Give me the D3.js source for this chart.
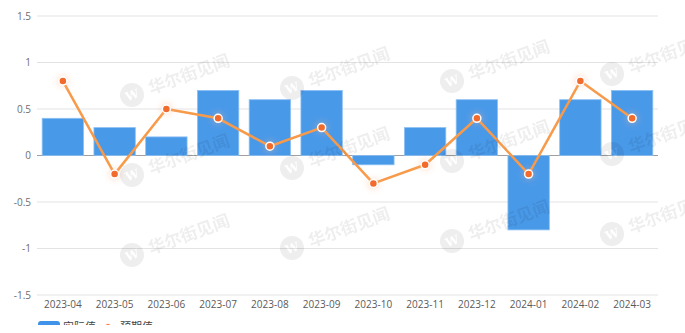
<!DOCTYPE html>
<html>
<head>
<meta charset="utf-8">
<script src="https://cdn.jsdelivr.net/npm/d3@7"></script>
<style>
  body { margin: 0; background: #fff; }
  svg { display: block; font-family: "Noto Sans CJK SC", "Open Sans", sans-serif; }
</style>
</head>
<body>
<div id="chart"></div>
<script>
// Data
let months = ["2023-04", "2023-05", "2023-06", "2023-07", "2023-08", "2023-09",
  "2023-10", "2023-11", "2023-12", "2024-01", "2024-02", "2024-03"];
let actual = [0.4, 0.3, 0.2, 0.7, 0.6, 0.7, -0.1, 0.3, 0.6, -0.8, 0.6, 0.7];
let expected = [0.8, -0.2, 0.5, 0.4, 0.1, 0.3, -0.3, -0.1, 0.4, -0.2, 0.8, 0.4];
let yTicks = [-1.5, -1, -0.5, 0, 0.5, 1, 1.5];
let legendNames = ["实际值", "预期值"];

let width = 685, height = 333;
let margin = { top: 16, right: 27, bottom: 38, left: 37 };

let svg = d3.select("#chart").append("svg")
  .attr("width", width)
  .attr("height", height);

let xScale = d3.scaleBand()
  .domain(months)
  .range([margin.left, width - margin.right])
  .paddingInner(0.2)
  .paddingOuter(0.1);

let yScale = d3.scaleLinear()
  .domain([-1.5, 1.5])
  .range([height - margin.bottom, margin.top]);

//Gridlines
svg.append("g")
  .selectAll("line")
  .data(yTicks)
  .enter()
  .append("line")
  .attr("x1", margin.left)
  .attr("x2", width - margin.right)
  .attr("y1", d => yScale(d))
  .attr("y2", d => yScale(d))
  .attr("stroke", d => d === 0 ? "#a0a0a0" : "#e3e3e3")
  .attr("stroke-width", d => d === 0 ? 1.2 : 1);

//Y axis labels
let yAxis = svg.append("g")
  .attr("transform", "translate(" + (margin.left - 6) + ",0)")
  .call(d3.axisLeft(yScale).tickValues(yTicks).tickSize(0).tickPadding(0)
    .tickFormat(d => String(d)));
yAxis.select(".domain").remove();
yAxis.selectAll("text")
  .attr("fill", "#6e6e6e")
  .style("font-size", "10px")
  .style("font-family", "'Open Sans', sans-serif");

//X axis labels
let xAxis = svg.append("g")
  .attr("transform", "translate(0," + (height - margin.bottom) + ")")
  .call(d3.axisBottom(xScale).tickSize(0).tickPadding(6));
xAxis.select(".domain").remove();
xAxis.selectAll("text")
  .attr("fill", "#5a5a5a")
  .style("font-size", "10px")
  .style("font-family", "'Open Sans', sans-serif");

//Bars
svg.append("g")
  .selectAll("rect")
  .data(actual)
  .enter()
  .append("rect")
  .attr("x", (d, i) => xScale(months[i]))
  .attr("width", xScale.bandwidth())
  .attr("y", d => yScale(Math.max(0, d)))
  .attr("height", d => Math.abs(yScale(d) - yScale(0)))
  .attr("fill", "#3f93e8")
  .attr("fill-opacity", 0.95)
  .attr("stroke", "#8cc0f3")
  .attr("stroke-width", 0.8);

//Expected line
let cx = i => xScale(months[i]) + xScale.bandwidth() / 2;
let line = d3.line()
  .x((d, i) => cx(i))
  .y(d => yScale(d));

let defs = svg.append("defs");
let glow = defs.append("filter").attr("id", "glow")
  .attr("x", "-100%").attr("y", "-100%").attr("width", "300%").attr("height", "300%");
glow.append("feGaussianBlur").attr("stdDeviation", 3);
defs.append("clipPath").attr("id", "cut")
  .append("rect").attr("x", 0).attr("y", 0).attr("width", width).attr("height", 325);

svg.append("path")
  .datum(expected)
  .attr("d", line)
  .attr("fill", "none")
  .attr("stroke", "#f79a4a")
  .attr("stroke-width", 2.5)
  .attr("stroke-linejoin", "round");

let pts = svg.append("g")
  .selectAll("g")
  .data(expected)
  .enter()
  .append("g")
  .attr("transform", (d, i) => "translate(" + cx(i) + "," + yScale(d) + ")");
pts.append("circle")
  .attr("r", 6)
  .attr("fill", "#ffb48a")
  .attr("opacity", 0.35)
  .attr("filter", "url(#glow)");
pts.append("circle")
  .attr("r", 4)
  .attr("fill", "#f26a2c")
  .attr("stroke", "#fff")
  .attr("stroke-width", 1.5);

//Watermark
let wm = svg.append("g").attr("pointer-events", "none").attr("opacity", 0.07);
for (let c = 1; c < 5; c++) {
  for (let r = 1; r < 4; r++) {
    let gx = -28 + c * 160, gy = 22 + r * 80 - c * 7;
    let g = wm.append("g")
      .attr("transform", "translate(" + gx + "," + gy + ") rotate(-20)");
    g.append("circle").attr("r", 12).attr("fill", "#000");
    g.append("text")
      .attr("text-anchor", "middle")
      .attr("dy", "0.36em")
      .attr("fill", "#fff")
      .style("font-size", "12px")
      .style("font-weight", "bold")
      .style("font-family", "'DejaVu Serif', serif")
      .text("W");
    g.append("text")
      .attr("x", 18)
      .attr("dy", "0.36em")
      .attr("fill", "#000")
      .style("font-size", "17px")
      .style("font-weight", "bold")
      .text("华尔街见闻");
  }
}

//Legend (cut off at the bottom edge of the chart area)
let leg = svg.append("g")
  .attr("clip-path", "url(#cut)")
  .append("g")
  .attr("transform", "translate(38,327)");
leg.append("rect")
  .attr("x", 0).attr("y", -6).attr("width", 22).attr("height", 12).attr("rx", 3)
  .attr("fill", "#3f93e8");
leg.append("text")
  .attr("x", 25).attr("dy", "0.35em")
  .attr("fill", "#444").style("font-size", "11px")
  .text(legendNames[0]);
leg.append("line")
  .attr("x1", 60).attr("x2", 80).attr("y1", 0).attr("y2", 0)
  .attr("stroke", "#f79a4a").attr("stroke-width", 2);
leg.append("circle")
  .attr("cx", 70).attr("cy", 0).attr("r", 3.5)
  .attr("fill", "#f26a2c").attr("stroke", "#fff");
leg.append("text")
  .attr("x", 82).attr("dy", "0.35em")
  .attr("fill", "#444").style("font-size", "11px")
  .text(legendNames[1]);
</script>
</body>
</html>
